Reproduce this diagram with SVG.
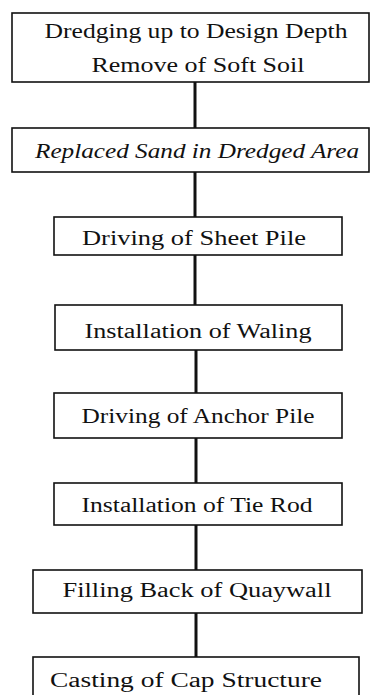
<svg xmlns="http://www.w3.org/2000/svg" width="371" height="695" viewBox="0 0 371 695">
<style>
.box{fill:#fff;stroke:#111;stroke-width:1.6}
.t{font-family:"Liberation Serif","Times New Roman",serif;font-size:20px;fill:#111;text-anchor:middle}
.it{font-style:italic}
.c{stroke:#111;stroke-width:3;fill:none}
</style>
<rect width="371" height="695" fill="#fff"/>
<g id="connectors">
<line class="c" x1="195" y1="82" x2="195" y2="128"/>
<line class="c" x1="195" y1="172" x2="195" y2="217"/>
<line class="c" x1="195" y1="255" x2="195" y2="305"/>
<line class="c" x1="196" y1="350" x2="196" y2="393"/>
<line class="c" x1="196" y1="438" x2="196" y2="483"/>
<line class="c" x1="196" y1="525" x2="196" y2="570"/>
<line class="c" x1="196" y1="613" x2="196" y2="657"/>
</g>
<g id="n1">
<rect class="box" x="12" y="13" width="357" height="69"/>
<text class="t" x="196" y="38" textLength="303" lengthAdjust="spacingAndGlyphs">Dredging up to Design Depth</text>
<text class="t" x="198" y="72" textLength="213" lengthAdjust="spacingAndGlyphs">Remove of Soft Soil</text>
</g>
<g id="n2">
<rect class="box" x="12" y="128" width="357" height="44"/>
<text class="t it" x="197" y="158" textLength="324" lengthAdjust="spacingAndGlyphs">Replaced Sand in Dredged Area</text>
</g>
<g id="n3">
<rect class="box" x="54" y="217" width="288" height="38"/>
<text class="t" x="194" y="245" textLength="224" lengthAdjust="spacingAndGlyphs">Driving of Sheet Pile</text>
</g>
<g id="n4">
<rect class="box" x="55" y="305" width="287" height="45"/>
<text class="t" x="198" y="338" textLength="227" lengthAdjust="spacingAndGlyphs">Installation of Waling</text>
</g>
<g id="n5">
<rect class="box" x="54" y="393" width="288" height="45"/>
<text class="t" x="198" y="423" textLength="233" lengthAdjust="spacingAndGlyphs">Driving of Anchor Pile</text>
</g>
<g id="n6">
<rect class="box" x="54" y="483" width="288" height="42"/>
<text class="t" x="197" y="512" textLength="231" lengthAdjust="spacingAndGlyphs">Installation of Tie Rod</text>
</g>
<g id="n7">
<rect class="box" x="33" y="570" width="329" height="43"/>
<text class="t" x="197" y="597" textLength="269" lengthAdjust="spacingAndGlyphs">Filling Back of Quaywall</text>
</g>
<g id="n8">
<rect class="box" x="33" y="657" width="326" height="45"/>
<text class="t" x="186" y="687" textLength="272" lengthAdjust="spacingAndGlyphs">Casting of Cap Structure</text>
</g>
</svg>
